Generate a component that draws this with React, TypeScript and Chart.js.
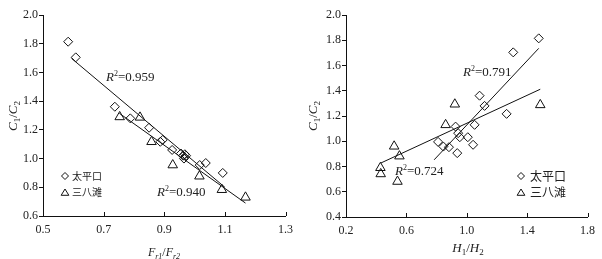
import React, { useEffect, useRef } from 'react';
import { Chart, registerables } from 'chart.js';
Chart.register(...registerables);

// ---- Left panel: C1/C2 vs Fr1/Fr2 ----
const leftTpkX = [0.583, 0.608, 0.737, 0.788, 0.85, 0.887, 0.895, 0.926, 0.955, 0.962, 0.968, 0.965, 0.972, 1.017, 1.037, 1.093];
const leftTpkY = [1.814, 1.705, 1.361, 1.28, 1.215, 1.117, 1.13, 1.06, 1.035, 1.02, 1.03, 1.0, 1.02, 0.955, 0.969, 0.9];
const leftSbtX = [0.753, 0.82, 0.858, 0.928, 1.016, 1.09, 1.168];
const leftSbtY = [1.29, 1.287, 1.117, 0.955, 0.877, 0.783, 0.73];
const leftFitTpkX = [0.594, 1.1];
const leftFitTpkY = [1.698, 0.8];
const leftFitSbtX = [0.752, 1.168];
const leftFitSbtY = [1.315, 0.69];
const leftR2 = ['0.959', '0.940'];

// ---- Right panel: C1/C2 vs H1/H2 ----
const rightTpkX = [1.477, 1.308, 1.085, 1.118, 1.264, 0.926, 1.052, 0.81, 0.845, 0.882, 0.937, 0.954, 1.007, 1.042, 0.943];
const rightTpkY = [1.815, 1.704, 1.361, 1.28, 1.217, 1.116, 1.13, 0.995, 0.958, 0.953, 0.906, 1.032, 1.032, 0.972, 1.064];
const rightSbtX = [0.921, 1.487, 0.86, 0.519, 0.554, 0.428, 0.43, 0.541];
const rightSbtY = [1.293, 1.288, 1.13, 0.96, 0.882, 0.79, 0.741, 0.681];
const rightFitTpkX = [0.784, 1.477];
const rightFitTpkY = [0.853, 1.736];
const rightFitSbtX = [0.43, 1.487];
const rightFitSbtY = [0.827, 1.412];
const rightR2 = ['0.791', '0.724'];

const seriesNames = ['太平口', '三八滩'];

const TEXT = '#222';
const LINE = '#111';
const SERIF = '"Liberation Serif", "Times New Roman", serif';
const CJK = '"Noto Sans CJK SC", sans-serif';

const pts = (xs: number[], ys: number[]) => xs.map((x, i) => ({ x, y: ys[i] }));

type Seg = { t: string; size: number; italic?: boolean; dy?: number };
const fontOf = (s: Seg) => `${s.italic ? 'italic ' : ''}${s.size}px ${SERIF}`;

function drawRich(ctx: CanvasRenderingContext2D, segs: Seg[], x: number, y: number, align: 'left' | 'center') {
  let w = 0;
  for (const s of segs) {
    ctx.font = fontOf(s);
    w += ctx.measureText(s.t).width;
  }
  let cx = align === 'center' ? x - w / 2 : x;
  ctx.textAlign = 'left';
  ctx.textBaseline = 'alphabetic';
  for (const s of segs) {
    ctx.font = fontOf(s);
    ctx.fillText(s.t, cx, y + (s.dy || 0));
    cx += ctx.measureText(s.t).width;
  }
}

function diamond(ctx: CanvasRenderingContext2D, x: number, y: number, r: number) {
  ctx.beginPath();
  ctx.moveTo(x, y - r);
  ctx.lineTo(x + r, y);
  ctx.lineTo(x, y + r);
  ctx.lineTo(x - r, y);
  ctx.closePath();
  ctx.stroke();
}
function triangle(ctx: CanvasRenderingContext2D, x: number, y: number, r: number) {
  ctx.beginPath();
  ctx.moveTo(x, y - r);
  ctx.lineTo(x + r * 1.1, y + r * 0.8);
  ctx.lineTo(x - r * 1.1, y + r * 0.8);
  ctx.closePath();
  ctx.stroke();
}

type PanelCfg = {
  xMin: number; xMax: number; xStep: number;
  yMin: number; yMax: number;
  yAxisW: number; xAxisH: number; padRight: number;
  xTitle: Seg[]; xTitlePos: [number, number];
  yTitlePos: [number, number];
  r2: { text: string; x: number; y: number }[];
  legend: { x: number; y1: number; y2: number; size: number; textX: number };
  tpk: { x: number; y: number }[]; sbt: { x: number; y: number }[];
  fitTpk: { x: number; y: number }[]; fitSbt: { x: number; y: number }[];
};

function makeChart(canvas: HTMLCanvasElement, cfg: PanelCfg) {
  const decor = {
    id: 'decor',
    afterDraw(chart: any) {
      const ctx: CanvasRenderingContext2D = chart.ctx;
      const xs = chart.scales.x;
      const area = chart.chartArea;
      ctx.save();
      // inside ticks on x axis
      ctx.strokeStyle = LINE;
      ctx.lineWidth = 1;
      for (const t of xs.ticks) {
        const px = Math.round(xs.getPixelForValue(t.value)) + 0.5;
        ctx.beginPath();
        ctx.moveTo(px, area.bottom);
        ctx.lineTo(px, area.bottom - 4);
        ctx.stroke();
      }
      ctx.fillStyle = TEXT;
      // x title
      drawRich(ctx, cfg.xTitle, cfg.xTitlePos[0], cfg.xTitlePos[1], 'center');
      // y title rotated
      ctx.save();
      ctx.translate(cfg.yTitlePos[0], cfg.yTitlePos[1]);
      ctx.rotate(-Math.PI / 2);
      drawRich(ctx, [
        { t: 'C', size: 13, italic: true },
        { t: '1', size: 9, dy: 3 },
        { t: '/', size: 13 },
        { t: 'C', size: 13, italic: true },
        { t: '2', size: 9, dy: 3 },
      ], 0, 0, 'center');
      ctx.restore();
      // R2 labels
      for (const r of cfg.r2) {
        drawRich(ctx, [
          { t: 'R', size: 13, italic: true },
          { t: '2', size: 8, dy: -5 },
          { t: '=' + r.text, size: 13 },
        ], r.x, r.y, 'left');
      }
      // legend
      const L = cfg.legend;
      ctx.strokeStyle = LINE;
      ctx.lineWidth = 1;
      diamond(ctx, L.x, L.y1, 3.5);
      triangle(ctx, L.x, L.y2, 3.5);
      ctx.font = `${L.size}px ${CJK}`;
      ctx.textAlign = 'left';
      ctx.textBaseline = 'middle';
      ctx.fillStyle = TEXT;
      ctx.fillText(seriesNames[0], L.textX, L.y1);
      ctx.fillText(seriesNames[1], L.textX, L.y2);
      ctx.restore();
    },
  };

  const tickFont = { family: SERIF, size: 12 };
  return new Chart(canvas, {
    type: 'scatter',
    data: {
      datasets: [
        {
          label: seriesNames[0], data: cfg.tpk, pointStyle: 'rectRot', pointRadius: 4.5,
          borderColor: LINE, backgroundColor: 'rgba(0,0,0,0)', borderWidth: 1,
        },
        {
          label: seriesNames[1], data: cfg.sbt, pointStyle: 'triangle', pointRadius: 5.5,
          borderColor: LINE, backgroundColor: 'rgba(0,0,0,0)', borderWidth: 1,
        },
        {
          label: 'fit1', data: cfg.fitTpk, showLine: true, pointRadius: 0,
          borderColor: LINE, borderWidth: 1, fill: false,
        },
        {
          label: 'fit2', data: cfg.fitSbt, showLine: true, pointRadius: 0,
          borderColor: LINE, borderWidth: 1, fill: false,
        },
      ],
    },
    options: {
      responsive: false,
      animation: false,
      devicePixelRatio: 1,
      layout: { padding: { left: 0, right: cfg.padRight, top: 15, bottom: 0 } },
      plugins: { legend: { display: false }, tooltip: { enabled: false } },
      scales: {
        x: {
          type: 'linear', min: cfg.xMin, max: cfg.xMax,
          ticks: {
            stepSize: cfg.xStep, autoSkip: false, maxRotation: 0, padding: 7,
            font: tickFont, color: TEXT,
            callback: (v: any) => Number(v).toFixed(1),
          },
          grid: { display: true, drawOnChartArea: false, drawTicks: false },
          border: { display: true, color: LINE, width: 1 },
          afterFit: (s: any) => { s.height = cfg.xAxisH; },
        },
        y: {
          type: 'linear', min: cfg.yMin, max: cfg.yMax,
          ticks: {
            stepSize: 0.2, autoSkip: false, padding: 1,
            font: tickFont, color: TEXT,
            callback: (v: any) => Number(v).toFixed(1),
          },
          grid: { display: true, drawOnChartArea: false, drawTicks: true, tickLength: 4, color: LINE },
          border: { display: true, color: LINE, width: 1 },
          afterFit: (s: any) => { s.width = cfg.yAxisW; },
        },
      },
    } as any,
    plugins: [decor],
  });
}

export default function App() {
  const leftRef = useRef<HTMLCanvasElement>(null);
  const rightRef = useRef<HTMLCanvasElement>(null);

  useEffect(() => {
    const c1 = makeChart(leftRef.current!, {
      xMin: 0.5, xMax: 1.3, xStep: 0.2, yMin: 0.6, yMax: 2.0,
      yAxisW: 43, xAxisH: 43, padRight: 14,
      xTitle: [
        { t: 'F', size: 12, italic: true },
        { t: 'r1', size: 8, italic: true, dy: 3 },
        { t: '/', size: 12 },
        { t: 'F', size: 12, italic: true },
        { t: 'r2', size: 8, italic: true, dy: 3 },
      ],
      xTitlePos: [164, 256],
      yTitlePos: [17, 116],
      r2: [{ text: leftR2[0], x: 106, y: 80.5 }, { text: leftR2[1], x: 157, y: 196 }],
      legend: { x: 65, y1: 176, y2: 192.5, size: 10, textX: 72 },
      tpk: pts(leftTpkX, leftTpkY), sbt: pts(leftSbtX, leftSbtY),
      fitTpk: pts(leftFitTpkX, leftFitTpkY), fitSbt: pts(leftFitSbtX, leftFitSbtY),
    });
    const c2 = makeChart(rightRef.current!, {
      xMin: 0.2, xMax: 1.8, xStep: 0.4, yMin: 0.4, yMax: 2.0,
      yAxisW: 46, xAxisH: 42, padRight: 12,
      xTitle: [
        { t: 'H', size: 13, italic: true },
        { t: '1', size: 9, dy: 3 },
        { t: '/', size: 13 },
        { t: 'H', size: 13, italic: true },
        { t: '2', size: 9, dy: 3 },
      ],
      xTitlePos: [168, 252],
      yTitlePos: [17, 116],
      r2: [{ text: rightR2[0], x: 163, y: 76 }, { text: rightR2[1], x: 95, y: 175 }],
      legend: { x: 221, y1: 176, y2: 192.5, size: 12, textX: 230 },
      tpk: pts(rightTpkX, rightTpkY), sbt: pts(rightSbtX, rightSbtY),
      fitTpk: pts(rightFitTpkX, rightFitTpkY), fitSbt: pts(rightFitSbtX, rightFitSbtY),
    });
    return () => { c1.destroy(); c2.destroy(); };
  }, []);

  return (
    <div style={{ position: 'absolute', left: 0, top: 0, width: 602, height: 259, background: '#fff', overflow: 'hidden' }}>
      <canvas ref={leftRef} width={300} height={259} style={{ position: 'absolute', left: 0, top: 0, width: 300, height: 259 }} />
      <canvas ref={rightRef} width={302} height={259} style={{ position: 'absolute', left: 300, top: 0, width: 302, height: 259 }} />
    </div>
  );
}
